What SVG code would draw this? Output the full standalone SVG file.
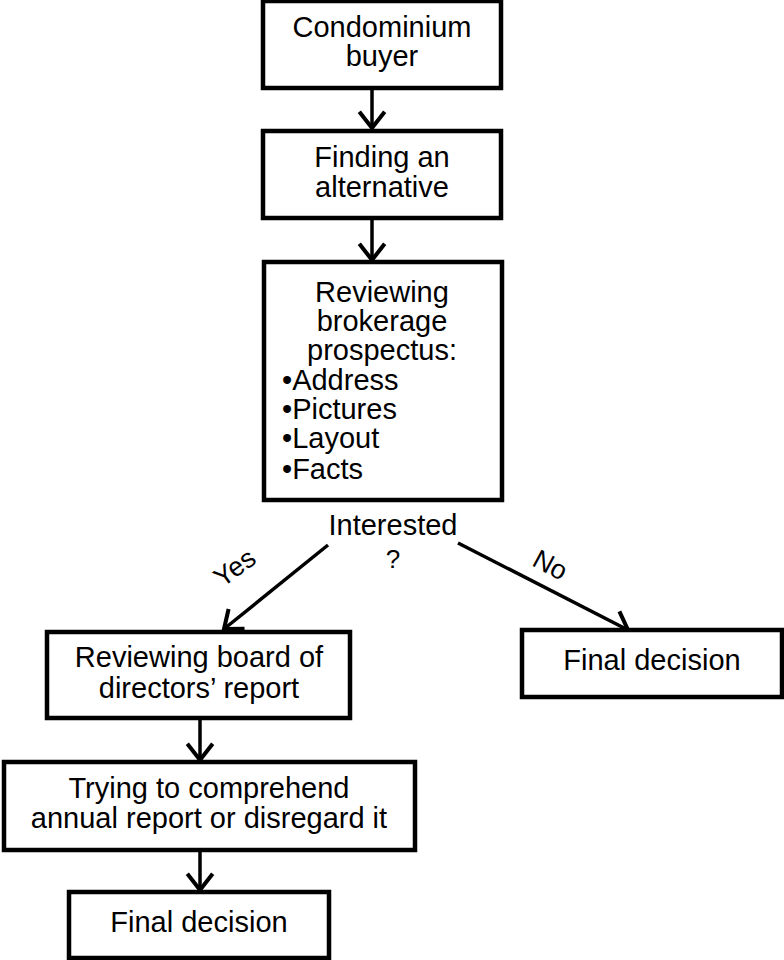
<svg xmlns="http://www.w3.org/2000/svg" width="784" height="960" viewBox="0 0 784 960">
<style>
.box{fill:#fff;stroke:#000;stroke-width:4.5}
.t{font-family:"Liberation Sans",Arial,sans-serif;font-size:29px;fill:#000;text-anchor:middle}
.l{text-anchor:start}
.c{stroke:#000;stroke-width:3.5;fill:none}
</style>
<defs>
<marker id="ah" markerUnits="userSpaceOnUse" markerWidth="30" markerHeight="30" viewBox="-16 -13 20 26" refX="0" refY="0" orient="auto">
<path d="M-14,-11 L0,0 L-14,11" fill="none" stroke="#000" stroke-width="3.5"/>
</marker>
</defs>
<g id="connectors">
<line class="c" x1="372" y1="88" x2="372" y2="128" marker-end="url(#ah)"/>
<line class="c" x1="372" y1="218" x2="372" y2="260" marker-end="url(#ah)"/>
<line class="c" x1="328" y1="545" x2="224" y2="629" marker-end="url(#ah)"/>
<line class="c" x1="458" y1="543" x2="628" y2="630" marker-end="url(#ah)"/>
<line class="c" x1="200" y1="718" x2="200" y2="760" marker-end="url(#ah)"/>
<line class="c" x1="200" y1="850" x2="200" y2="890" marker-end="url(#ah)"/>
<text class="t" transform="translate(240,575) rotate(-36)" style="font-size:27px">Yes</text>
<text class="t" transform="translate(546,573) rotate(28)" style="font-size:27px">No</text>
</g>
<g id="n1">
<rect class="box" x="263" y="1" width="238" height="87"/>
<text class="t" x="382" y="37">Condominium</text>
<text class="t" x="382" y="66">buyer</text>
</g>
<g id="n2">
<rect class="box" x="263" y="131" width="238" height="87"/>
<text class="t" x="382" y="167">Finding an</text>
<text class="t" x="382" y="197">alternative</text>
</g>
<g id="n3">
<rect class="box" x="264" y="262" width="238" height="238"/>
<text class="t" x="382" y="302">Reviewing</text>
<text class="t" x="382" y="331">brokerage</text>
<text class="t" x="382" y="360">prospectus:</text>
<text class="t l" x="282" y="390">•Address</text>
<text class="t l" x="282" y="419">•Pictures</text>
<text class="t l" x="282" y="448">•Layout</text>
<text class="t l" x="282" y="479">•Facts</text>
</g>
<g id="decision">
<text class="t" x="393" y="535">Interested</text>
<text class="t" x="393" y="568" style="font-size:26px">?</text>
</g>
<g id="n4">
<rect class="box" x="47" y="632" width="303" height="86"/>
<text class="t" x="199" y="667">Reviewing board of</text>
<text class="t" x="199" y="698">directors’ report</text>
</g>
<g id="n5">
<rect class="box" x="4" y="762" width="411" height="88"/>
<text class="t" x="209" y="798">Trying to comprehend</text>
<text class="t" x="209" y="828">annual report or disregard it</text>
</g>
<g id="n6">
<rect class="box" x="69" y="892" width="260" height="66"/>
<text class="t" x="199" y="932">Final decision</text>
</g>
<g id="n7">
<rect class="box" x="522" y="630" width="260" height="67"/>
<text class="t" x="652" y="670">Final decision</text>
</g>
</svg>
